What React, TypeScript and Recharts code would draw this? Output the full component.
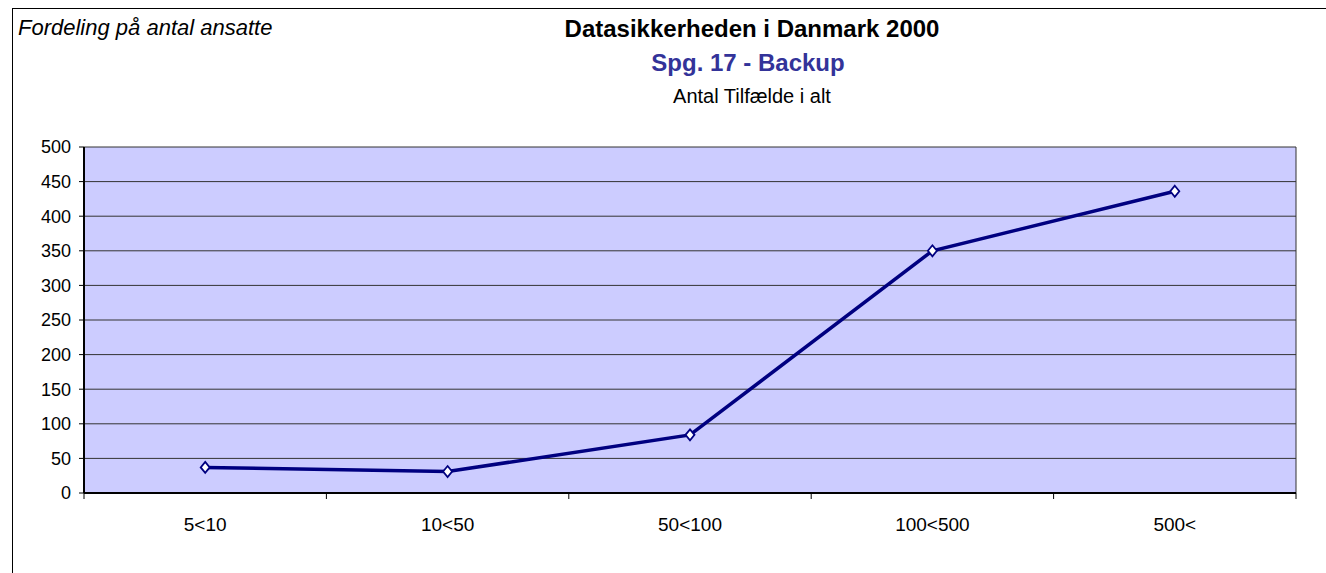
import React from "react"
import { LineChart, Line, XAxis, YAxis, CartesianGrid } from "recharts"

// Antal tilfælde i alt per virksomhedsstørrelse
const categories = ["5<10", "10<50", "50<100", "100<500", "500<"]
const values = [37, 31, 84, 350, 436]
const yTicks = [0, 50, 100, 150, 200, 250, 300, 350, 400, 450, 500]

const W = 1326
const H = 573
const PLOT_LEFT = 84
const PLOT_RIGHT = 1296
const PLOT_BOTTOM = 493
const STEP = (PLOT_RIGHT - PLOT_LEFT) / categories.length
const FONT = '"Liberation Sans", Arial, sans-serif'

const data = categories.map((name, i) => ({ name, value: values[i] }))

function CategoryTick(props: any) {
  const { x, payload, index } = props
  const left = x - STEP / 2
  return (
    <g>
      <line x1={left} x2={left} y1={PLOT_BOTTOM} y2={PLOT_BOTTOM + 6} stroke="#000" />
      {index === categories.length - 1 && (
        <line x1={x + STEP / 2} x2={x + STEP / 2} y1={PLOT_BOTTOM} y2={PLOT_BOTTOM + 6} stroke="#000" />
      )}
      <text x={x} y={531} textAnchor="middle" fontSize={19} fill="#000" fontFamily={FONT}>
        {payload.value}
      </text>
    </g>
  )
}

function Diamond(props: any) {
  const { cx, cy } = props
  if (cx == null || cy == null) return null
  return (
    <path
      d={`M${cx},${cy - 5.5} L${cx + 4.5},${cy} L${cx},${cy + 5.5} L${cx - 4.5},${cy} Z`}
      fill="#fff"
      stroke="#000080"
      strokeWidth={1.8}
    />
  )
}

export default function App() {
  return (
    <div
      style={{
        position: "absolute",
        left: 0,
        top: 0,
        width: W,
        height: H,
        overflow: "hidden",
        background: "#fff",
        fontFamily: FONT,
      }}
    >
      <div
        style={{
          position: "absolute",
          left: 12,
          top: 8,
          width: 1400,
          height: 700,
          border: "1px solid #000",
        }}
      />
      <div style={{ position: "absolute", left: 0, top: 0 }}>
        <LineChart width={W} height={H} data={data} margin={{ top: 147, right: W - PLOT_RIGHT, bottom: 50, left: 0 }}>
          <CartesianGrid
            fill="#CCCCFF"
            fillOpacity={1}
            stroke="#333"
            vertical={true}
            verticalPoints={[PLOT_RIGHT]}
          />
          <XAxis
            dataKey="name"
            interval={0}
            height={30}
            padding={{ left: STEP / 2, right: STEP / 2 }}
            tickLine={false}
            axisLine={{ stroke: "#000", strokeWidth: 2 }}
            tick={<CategoryTick />}
          />
          <YAxis
            domain={[0, 500]}
            ticks={yTicks}
            width={PLOT_LEFT}
            tickSize={5}
            tickMargin={8}
            tickLine={{ stroke: "#000" }}
            axisLine={{ stroke: "#000", strokeWidth: 2 }}
            tick={{ fill: "#000", fontSize: 18, fontFamily: FONT }}
          />
          <Line
            type="linear"
            dataKey="value"
            stroke="#000080"
            strokeWidth={3.5}
            dot={<Diamond />}
            activeDot={false}
            isAnimationActive={false}
          />
        </LineChart>
      </div>
      <svg
        width={W}
        height={H}
        style={{ position: "absolute", left: 0, top: 0, pointerEvents: "none" }}
        fontFamily={FONT}
      >
        <text x={18} y={35} fontSize={22} fontStyle="italic" fill="#000">
          Fordeling på antal ansatte
        </text>
        <text x={752} y={37} fontSize={24} fontWeight="bold" textAnchor="middle" fill="#000">
          Datasikkerheden i Danmark 2000
        </text>
        <text x={748} y={71} fontSize={24} fontWeight="bold" textAnchor="middle" fill="#333399">
          Spg. 17 - Backup
        </text>
        <text x={752} y={103} fontSize={20} textAnchor="middle" fill="#000">
          Antal Tilfælde i alt
        </text>
      </svg>
    </div>
  )
}
